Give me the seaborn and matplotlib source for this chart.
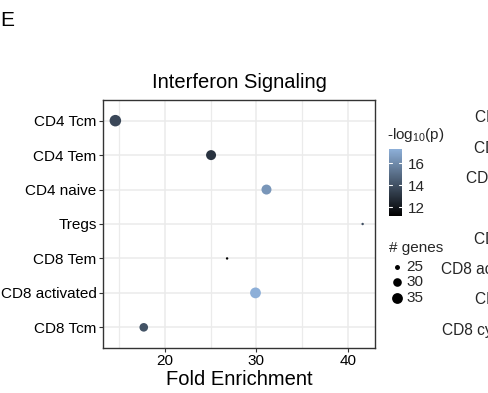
import numpy as np
import pandas as pd
import matplotlib
matplotlib.use("Agg")
import matplotlib.pyplot as plt
import matplotlib.transforms as mtransforms
from matplotlib.colors import LinearSegmentedColormap, Normalize
from matplotlib.cm import ScalarMappable
import seaborn as sns

# ---------------- data ----------------
cell_types = ["CD4 Tcm", "CD4 Tem", "CD4 naive", "Tregs", "CD8 Tem", "CD8 activated", "CD8 Tcm"]
fold_enrichment = [14.6, 25.05, 31.1, 41.6, 26.8, 29.9, 17.7]
neg_log10_p = [13.7, 13.0, 16.4, 14.0, 11.2, 17.3, 14.1]
n_genes = [37, 33, 33, 24, 24, 35, 30]
x_ticks = [20, 30, 40]
cbar_ticks = [12, 14, 16]
legend_genes = [25, 30, 35]
other_panel_labels = ["CD4 Tcm", "CD4 Tem", "CD4 naive", "Tregs", "CD8 Tem",
                      "CD8 activated", "CD8 Tcm", "CD8 cytotoxic"]

df = pd.DataFrame({"cell": cell_types, "fe": fold_enrichment,
                   "p": neg_log10_p, "genes": n_genes})
df["ypos"] = np.arange(len(df))

sns.set_theme(style="white")
plt.rcParams["font.family"] = ["Liberation Sans", "DejaVu Sans"]
plt.rcParams["mathtext.fontset"] = "custom"
plt.rcParams["mathtext.rm"] = "Liberation Sans"
plt.rcParams["mathtext.it"] = "Liberation Sans"

W, H = 489, 393
fig = plt.figure(figsize=(W / 100, H / 100), dpi=100)

def px_rect(x0, y0, x1, y1):
    return [x0 / W, 1 - y1 / H, (x1 - x0) / W, (y1 - y0) / H]

ax = fig.add_axes(px_rect(103, 100, 375, 348))

gmin, gmax = min(n_genes), max(n_genes)
def area(n):
    t = np.clip((n - gmin) / (gmax - gmin), 0, 1)
    size = 1 + 5 * np.sqrt(t)
    d_px = 0.64 * (size * 2.845 + 0.945)
    return (d_px * 0.72) ** 2

cmap = LinearSegmentedColormap.from_list("bk", ["#000000", "#8DAFD8"])
vmin, vmax = min(neg_log10_p), max(neg_log10_p)
norm = Normalize(vmin, vmax)

sizes = {g: area(g) for g in sorted(set(n_genes))}
sns.scatterplot(data=df, x="fe", y="ypos", hue="p", palette=cmap, hue_norm=norm,
                size="genes", sizes=sizes, linewidth=0, legend=False, ax=ax, zorder=3)

ax.set_xlim(13.25, 42.95)
ax.set_ylim(len(df) - 1 + 0.6, -0.6)
ax.set_xticks(x_ticks)
ax.set_xticks([15, 25, 35], minor=True)
ax.set_yticks(df["ypos"])
ax.set_yticklabels(cell_types)
ax.grid(True, which="major", color="#EBEBEB", linewidth=1.1, zorder=0)
ax.grid(True, which="minor", axis="x", color="#EBEBEB", linewidth=0.9, zorder=0)
ax.set_axisbelow(True)
for sp in ax.spines.values():
    sp.set_color("#333333")
    sp.set_linewidth(1.0)
ax.tick_params(axis="both", which="major", length=3, width=0.8, color="#333333",
               labelsize=11, labelcolor="black", pad=1.5, direction="out",
               left=True, bottom=True)
ax.tick_params(axis="x", which="minor", length=0)
ax.set_xlabel("Fold Enrichment", fontsize=14.5, labelpad=1, color="black")
ax.set_ylabel("")
ax.set_title("Interferon Signaling", fontsize=14.5, pad=9, color="black")

# colourbar
cax = fig.add_axes(px_rect(389, 149, 402, 216))
cb = fig.colorbar(ScalarMappable(norm=norm, cmap=cmap), cax=cax, ticks=cbar_ticks)
cb.outline.set_visible(False)
cax.tick_params(length=0, labelsize=11, pad=4)
tr = mtransforms.blended_transform_factory(cax.transAxes, cax.transData)
for t in cbar_ticks:
    cax.plot([0, 0.2], [t, t], color="white", lw=0.8, transform=tr)
    cax.plot([0.8, 1], [t, t], color="white", lw=0.8, transform=tr)

# overlay for legend text and clipped neighbouring panel
oax = fig.add_axes([0, 0, 1, 1], facecolor="none")
oax.set_xlim(0, W)
oax.set_ylim(H, 0)
oax.axis("off")
oax.text(387, 135, r"-log$_{\mathrm{10}}$(p)", fontsize=11, va="center", ha="left")
oax.text(389, 248, "# genes", fontsize=11, va="center", ha="left")
for g, y in zip(legend_genes, [267, 282, 298]):
    oax.scatter([397], [y], s=area(g), color="black", linewidth=0)
    oax.text(406, y, str(g), fontsize=11, va="center", ha="left")

oax.text(0, 21, "E", fontsize=15, va="center", ha="left", color="black")
for i, lab in enumerate(other_panel_labels):
    oax.text(538, 118 + i * 30.3, lab, fontsize=11.2, va="center", ha="right", clip_on=False)

fig.savefig("out.png", dpi=100)
